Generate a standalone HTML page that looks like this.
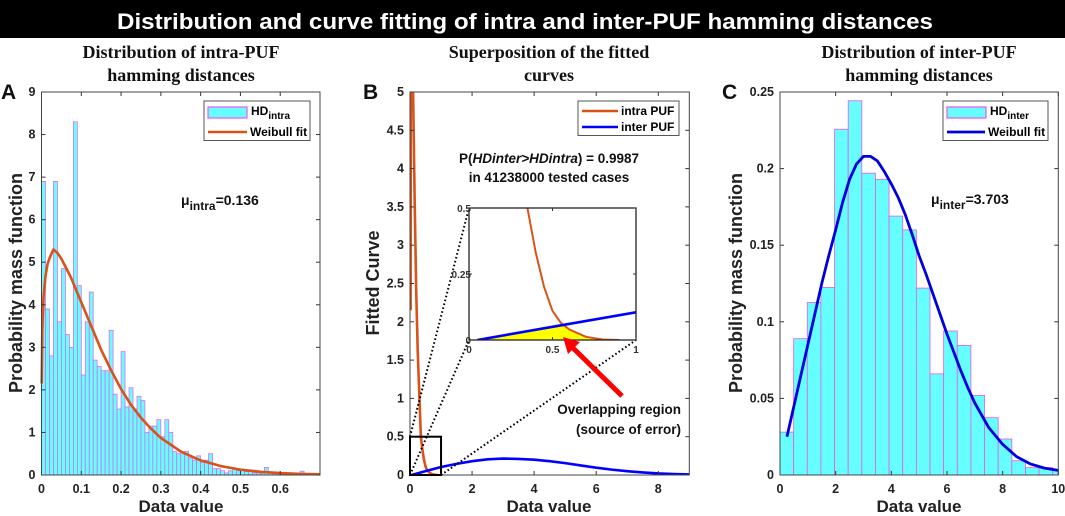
<!DOCTYPE html>
<html><head><meta charset="utf-8"><style>
html,body{margin:0;padding:0;background:#fff;}
svg{display:block;font-family:"Liberation Sans",sans-serif;}
.tk{font-size:12.5px;font-weight:bold;fill:#222;}
.ttl{font-family:"Liberation Serif",serif;font-weight:bold;font-size:18px;fill:#111;}
.ax{font-size:17px;font-weight:bold;fill:#222;}
.yax{font-size:18px;font-weight:bold;fill:#222;}
</style></head><body>
<svg id="fig" width="1065" height="516" viewBox="0 0 1065 516" xmlns="http://www.w3.org/2000/svg">
<rect x="0" y="0" width="1065" height="38" fill="#000"/>
<text x="525" y="29" text-anchor="middle" font-size="22" font-weight="bold" fill="#fff" textLength="816" lengthAdjust="spacingAndGlyphs">Distribution and curve fitting of intra and inter-PUF hamming distances</text>
<g id="pa"></g><g id="pb"></g><g id="pc"></g>
</svg>
<script>
// ---------- Panel A data ----------
const aBinWidth = 0.01;
const aBins = [6.9,3.9,2.8,6.9,3.6,4.85,3.3,3.0,8.3,4.45,2.35,3.6,4.3,2.7,2.55,2.45,2.45,3.4,1.9,1.55,2.9,1.6,2.05,1.55,1.85,1.75,1.0,1.15,1.15,1.3,0.9,1.3,1.0,0.55,0.5,0.55,0.55,0.4,0.35,0.45,0.3,0.35,0.5,0.15,0.15,0.1,0.05,0.1,0.15,0.1,0.1,0.08,0.08,0.05,0.05,0.04,0.18,0.05,0.03,0.03,0.02,0.02,0.02,0.02,0.02,0.09,0.01,0.01,0.01,0.01];
const aFitX = [0.0005,0.002,0.005,0.01,0.015,0.02,0.025,0.03,0.04,0.05,0.06,0.075,0.09,0.1,0.125,0.15,0.175,0.2,0.225,0.25,0.275,0.3,0.35,0.4,0.45,0.5,0.55,0.6,0.65,0.7];
const aFitY = [2.15,3.4,4.16,4.67,4.95,5.09,5.2,5.3,5.22,5.08,4.9,4.62,4.28,4.06,3.5,2.94,2.46,2.02,1.65,1.345,1.09,0.871,0.552,0.343,0.21,0.126,0.076,0.045,0.026,0.015];
const aXTicks = [0,0.1,0.2,0.3,0.4,0.5,0.6];
const aYTicks = [0,1,2,3,4,5,6,7,8,9];
// ---------- Panel B data ----------
const bIntraX = [0.02,0.025,0.1,0.15,0.2,0.25,0.3,0.35,0.4,0.45,0.5,0.55,0.6,0.7,0.8,0.9];
const bIntraY = [2.15,5.5,5.0,3.6,2.4,1.6,1.05,0.5,0.33,0.2,0.11,0.065,0.04,0.012,0.002,0];
const bInterX = [0.05,0.5,1,1.5,2,2.5,3,3.5,4,4.5,5,5.5,6,6.5,7,7.5,8,8.5,9];
const bInterY = [0,0.05,0.105,0.145,0.18,0.205,0.215,0.21,0.2,0.18,0.155,0.125,0.095,0.07,0.05,0.033,0.02,0.012,0.007];
const bXTicks = [0,2,4,6,8];
const bYTicks = [0,0.5,1,1.5,2,2.5,3,3.5,4,4.5,5];
const bYLabels = ['0','0.5','1','1.5','2','2.5','3','3.5','4','4.5','5'];
// ---------- Panel C data ----------
const cBinWidth = 0.49;
const cBins = [0.028,0.089,0.1126,0.1224,0.2257,0.2443,0.197,0.193,0.169,0.160,0.122,0.066,0.094,0.0846,0.052,0.0374,0.0235,0.0093,0.0048,0.0048,0.0037];
const cFitX = [0.25,0.5,0.75,1,1.25,1.5,1.75,2,2.25,2.5,2.75,3,3.25,3.5,3.75,4,4.25,4.5,4.75,5,5.25,5.5,5.75,6,6.25,6.5,6.75,7,7.5,8,8.5,9,9.5,10];
const cFitY = [0.025,0.045,0.065,0.085,0.105,0.125,0.143,0.16,0.178,0.193,0.203,0.208,0.208,0.205,0.198,0.19,0.181,0.17,0.157,0.143,0.131,0.118,0.105,0.092,0.08,0.068,0.057,0.047,0.031,0.02,0.012,0.0072,0.0045,0.003];
const cXTicks = [0,2,4,6,8,10];
const cYTicks = [0,0.05,0.1,0.15,0.2,0.25];

const NS='http://www.w3.org/2000/svg';
function mk(parent,tag,attrs,txt){const e=document.createElementNS(NS,tag);for(const k in attrs)e.setAttribute(k,attrs[k]);if(txt!==undefined)e.textContent=txt;parent.appendChild(e);return e;}
function scale(d0,d1,r0,r1){return v=>r0+(v-d0)/(d1-d0)*(r1-r0);}

function axes(g,L,T,R,B,sx,sy,xt,yt,ylab,prefix){
  for(let i=0;i<xt.length;i++){const x=sx(xt[i]);
    const t1=mk(g,'line',{x1:x,x2:x,y1:B,y2:B-4,stroke:'#333'});
    
    
    mk(g,'line',{x1:x,x2:x,y1:T,y2:T+4,stroke:'#333'});
    const tl=mk(g,'text',{x:x,y:B+18,'text-anchor':'middle',class:'tk'},String(xt[i]));
    
    
  }
  for(let i=0;i<yt.length;i++){const y=sy(yt[i]);
    mk(g,'line',{x1:L,x2:L+4,y1:y,y2:y,stroke:'#333'});
    mk(g,'line',{x1:R,x2:R-4,y1:y,y2:y,stroke:'#333'});
    const tl=mk(g,'text',{x:L-6,y:y+4,'text-anchor':'end',class:'tk'},ylab?ylab[i]:String(yt[i]));
    
    
  }
  const box=mk(g,'rect',{x:L,y:T,width:R-L,height:B-T,fill:'none',stroke:'#444','stroke-width':1});
  
  
}
function poly(xs,ys,sx,sy){return xs.map((x,i)=>sx(x).toFixed(2)+','+sy(ys[i]).toFixed(2)).join(' ');}
function titles(g,cx,l1,l2,letter,lx,ylabel,yl,prefix){
  const t=mk(g,'text',{x:cx,y:58,'text-anchor':'middle',class:'ttl'},l1);
  
  
  mk(g,'text',{x:cx,y:81,'text-anchor':'middle',class:'ttl'},l2);
  const le=mk(g,'text',{x:lx,y:99,'font-size':21,'font-weight':'bold',fill:'#111'},letter);
  
  
  const xl=mk(g,'text',{x:cx,y:512,'text-anchor':'middle',class:'ax'},'Data value');
  
  
  const yla=mk(g,'text',{x:0,y:0,'text-anchor':'middle',class:'yax',transform:'translate('+yl+',283) rotate(-90)'},ylabel);
  
  
}

// ---------- Panel A ----------
(function(){
  const g=document.getElementById('pa');
  const L=41.5,R=320,T=92,B=475;
  const sx=scale(0,0.7,L,R), sy=scale(0,9,B,T);
  titles(g,181,'Distribution of intra-PUF','hamming distances','A',1,'Probability mass function',22,'a');
  const bars=mk(g,'g',{});
  
  
  for(let i=0;i<aBins.length;i++){
    const x0=sx(i*aBinWidth), x1=sx((i+1)*aBinWidth), y=sy(aBins[i]);
    const r=mk(bars,'rect',{x:x0,y:y,width:x1-x0,height:B-y,fill:'#66ffff',stroke:'#ee55ee','stroke-width':0.7});
    
    
  }
  const c=mk(g,'polyline',{points:poly(aFitX,aFitY,sx,sy),fill:'none',stroke:'#d95319','stroke-width':2.6,'stroke-linejoin':'round'});
  
  
  axes(g,L,T,R,B,sx,sy,aXTicks,aYTicks,null,'a');
  const lg=mk(g,'g',{});
  
  
  mk(lg,'rect',{x:204,y:101,width:106,height:39.5,fill:'#fff',stroke:'#555'});
  mk(lg,'rect',{x:208,y:107,width:39,height:11,fill:'#66ffff',stroke:'#ee55ee','stroke-width':1.2});
  const t=mk(lg,'text',{x:251,y:115,'font-size':12,'font-weight':'bold'},'HD');
  mk(t,'tspan',{'font-size':10,dy:4},'intra');
  mk(lg,'line',{x1:208,x2:247,y1:132,y2:132,stroke:'#d95319','stroke-width':2.6});
  mk(lg,'text',{x:250,y:136,'font-size':12,'font-weight':'bold'},'Weibull fit');
  const m=mk(g,'text',{x:181,y:205,'font-size':14,'font-weight':'bold',fill:'#111'},'μ');
  
  
  mk(m,'tspan',{'font-size':12,dy:5},'intra');
  mk(m,'tspan',{'font-size':14,dy:-5},'=0.136');
})();

// ---------- Panel B ----------
(function(){
  const g=document.getElementById('pb');
  const L=410,R=689.3,T=92,B=475;
  const sx=scale(0,9,L,R), sy=scale(0,5,B,T);
  titles(g,549,'Superposition of the fitted','curves','B',363,'Fitted Curve',379,'b');
  mk(g,'clipPath',{id:'clipB'}).appendChild(document.createElementNS(NS,'rect'));
  const cr=document.querySelector('#clipB rect');cr.setAttribute('x',L);cr.setAttribute('y',T);cr.setAttribute('width',R-L);cr.setAttribute('height',B-T);
  const c1=mk(g,'polyline',{points:poly(bIntraX,bIntraY,sx,sy),fill:'none',stroke:'#d95319','stroke-width':2.6,'clip-path':'url(#clipB)'});
  
  
  const c2=mk(g,'polyline',{points:poly(bInterX,bInterY,sx,sy),fill:'none',stroke:'#0000ff','stroke-width':2.6,'clip-path':'url(#clipB)'});
  
  
  axes(g,L,T,R,B,sx,sy,bXTicks,bYTicks,bYLabels,'b');
  const zb=mk(g,'rect',{x:sx(0),y:sy(0.5),width:sx(1)-sx(0),height:sy(0)-sy(0.5),fill:'none',stroke:'#000','stroke-width':2});
  
  
  const IL=469,IR=636,IT=208,IB=340;
  const ix=scale(0,1,IL,IR), iy=scale(0,0.5,IB,IT);
  const dots=[[sx(0),sy(0.5),IL,IT],[sx(0),sy(0),IL,IB],[sx(1),sy(0),IR,IB]];
  dots.forEach(d=>{const l=mk(g,'line',{x1:d[0],y1:d[1],x2:d[2],y2:d[3],stroke:'#000','stroke-width':2,'stroke-dasharray':'1.6,2.4'});
    
    });
  const ig=mk(g,'g',{});
  
  
  mk(ig,'rect',{x:IL,y:IT,width:IR-IL,height:IB-IT,fill:'#fff'});
  mk(ig,'clipPath',{id:'clipI'});
  mk(document.getElementById('clipI'),'rect',{x:IL,y:IT,width:IR-IL,height:IB-IT});
  function interp(xs,ys,x){if(x<=xs[0])return ys[0];for(let i=1;i<xs.length;i++){if(x<=xs[i]){const t=(x-xs[i-1])/(xs[i]-xs[i-1]);return ys[i-1]+t*(ys[i]-ys[i-1]);}}return ys[ys.length-1];}
  const fx=[];for(let i=0;i<=80;i++)fx.push(0.05+i*(0.8-0.05)/80);
  let pts=fx.map(x=>ix(x).toFixed(2)+','+iy(Math.max(0,Math.min(interp(bIntraX,bIntraY,x),interp(bInterX,bInterY,x)))).toFixed(2));
  pts.push(ix(0.8)+','+iy(0));pts.push(ix(0.05)+','+iy(0));
  const ov=mk(ig,'polygon',{points:pts.join(' '),fill:'#ffff00'});
  
  
  mk(ig,'polyline',{points:poly(bIntraX,bIntraY,ix,iy),fill:'none',stroke:'#d95319','stroke-width':2,'clip-path':'url(#clipI)'});
  mk(ig,'polyline',{points:poly(bInterX,bInterY,ix,iy),fill:'none',stroke:'#0000ff','stroke-width':2.6,'clip-path':'url(#clipI)'});
  mk(ig,'rect',{x:IL,y:IT,width:IR-IL,height:IB-IT,fill:'none',stroke:'#222','stroke-width':1.3});
  [0,0.5,1].forEach(v=>{mk(ig,'text',{x:ix(v),y:IB+13,'text-anchor':'middle','font-size':10,'font-weight':'bold',fill:'#333'},String(v));
    mk(ig,'line',{x1:ix(v),x2:ix(v),y1:IB,y2:IB-3,stroke:'#333'});mk(ig,'line',{x1:ix(v),x2:ix(v),y1:IT,y2:IT+3,stroke:'#333'});});
  [0,0.25,0.5].forEach(v=>{mk(ig,'text',{x:IL+2,y:iy(v)+4,'text-anchor':'end','font-size':10,'font-weight':'bold',fill:'#333'},String(v));
    mk(ig,'line',{x1:IL,x2:IL+3,y1:iy(v),y2:iy(v),stroke:'#333'});mk(ig,'line',{x1:IR,x2:IR-3,y1:iy(v),y2:iy(v),stroke:'#333'});});
  const ar=mk(g,'g',{});
  
  
  mk(ar,'line',{x1:622,y1:396,x2:572,y2:347,stroke:'#ff0000','stroke-width':5});
  mk(ar,'polygon',{points:'563,337 580,342 568,354',fill:'#ff0000'});
  const p1=mk(g,'text',{x:549,y:163,'text-anchor':'middle','font-size':13.5,'font-weight':'bold',fill:'#111'},'');
  
  
  mk(p1,'tspan',{},'P(');mk(p1,'tspan',{'font-style':'italic'},'HDinter>HDintra');mk(p1,'tspan',{},') = 0.9987');
  mk(g,'text',{x:549,y:182,'text-anchor':'middle','font-size':13.5,'font-weight':'bold',fill:'#111'},'in 41238000 tested cases');
  const o1=mk(g,'text',{x:681,y:414,'text-anchor':'end','font-size':13.5,'font-weight':'bold',fill:'#111'},'Overlapping region');
  
  
  mk(g,'text',{x:681,y:434,'text-anchor':'end','font-size':13.5,'font-weight':'bold',fill:'#111'},'(source of error)');
  const lg=mk(g,'g',{});
  
  
  mk(lg,'rect',{x:578,y:101,width:101,height:34.5,fill:'#fff',stroke:'#555'});
  mk(lg,'line',{x1:582,x2:618,y1:111,y2:111,stroke:'#d95319','stroke-width':2.6});
  mk(lg,'text',{x:621,y:115,'font-size':12,'font-weight':'bold'},'intra PUF');
  mk(lg,'line',{x1:582,x2:618,y1:127,y2:127,stroke:'#0000ff','stroke-width':2.6});
  mk(lg,'text',{x:621,y:131,'font-size':12,'font-weight':'bold'},'inter PUF');
})();

// ---------- Panel C ----------
(function(){
  const g=document.getElementById('pc');
  const L=780,R=1058.3,T=92,B=475;
  const sx=scale(0,10,L,R), sy=scale(0,0.25,B,T);
  titles(g,919,'Distribution of inter-PUF','hamming distances','C',722,'Probability mass function',742,'c');
  const bars=mk(g,'g',{});
  
  
  for(let i=0;i<cBins.length;i++){
    const x0=sx(i*cBinWidth), x1=sx(Math.min(10,(i+1)*cBinWidth)), y=sy(cBins[i]);
    const r=mk(bars,'rect',{x:x0,y:y,width:x1-x0,height:B-y,fill:'#66ffff',stroke:'#ee55ee','stroke-width':0.8});
    
    
  }
  const c=mk(g,'polyline',{points:poly(cFitX,cFitY,sx,sy),fill:'none',stroke:'#0000dd','stroke-width':2.8,'stroke-linejoin':'round'});
  
  
  axes(g,L,T,R,B,sx,sy,cXTicks,cYTicks,null,'c');
  const lg=mk(g,'g',{});
  
  
  mk(lg,'rect',{x:943,y:101,width:105,height:39.5,fill:'#fff',stroke:'#555'});
  mk(lg,'rect',{x:947,y:107,width:39,height:11,fill:'#66ffff',stroke:'#ee55ee','stroke-width':1.2});
  const t=mk(lg,'text',{x:990,y:115,'font-size':12,'font-weight':'bold'},'HD');
  mk(t,'tspan',{'font-size':10,dy:4},'inter');
  mk(lg,'line',{x1:947,x2:985,y1:132,y2:132,stroke:'#0000dd','stroke-width':2.8});
  mk(lg,'text',{x:988,y:136,'font-size':12,'font-weight':'bold'},'Weibull fit');
  const m=mk(g,'text',{x:931,y:204,'font-size':14,'font-weight':'bold',fill:'#111'},'μ');
  
  
  mk(m,'tspan',{'font-size':12,dy:5},'inter');
  mk(m,'tspan',{'font-size':14,dy:-5},'=3.703');
})();
</script>
</body></html>
